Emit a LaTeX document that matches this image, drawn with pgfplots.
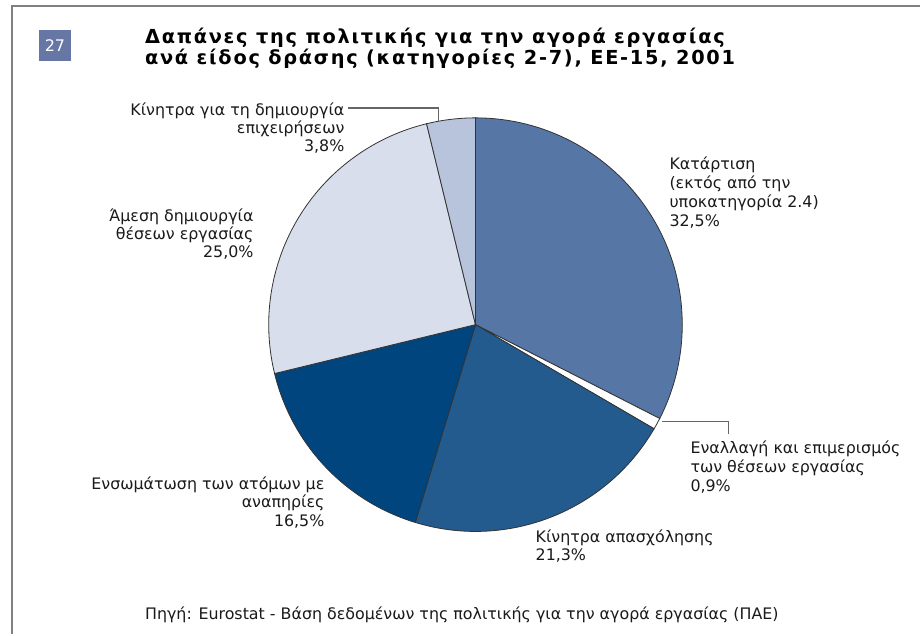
\documentclass[border=0pt]{standalone}
\usepackage{fontspec}
\setmainfont{DejaVu Sans}
\usepackage{pgfplots}
\usepackage{pgfplotstable}
\pgfplotsset{compat=1.18}

\definecolor{cA}{HTML}{5677A6}
\definecolor{cC}{HTML}{235B8E}
\definecolor{cD}{HTML}{00457E}
\definecolor{cE}{HTML}{D8DEEC}
\definecolor{cF}{HTML}{B8C3DC}
\definecolor{boxblue}{HTML}{6676A5}
\definecolor{txt}{HTML}{1A1A1A}

% shares in percent, clockwise from 12 o'clock
\pgfplotstableread[col sep=comma]{
share,colour
32.5,cA
0.9,white
21.3,cC
16.5,cD
25.0,cE
3.8,cF
}\piedata

\tikzset{
  slice/.style={draw=black!80, line width=0.6pt},
  lbl/.style={inner sep=0pt, text=txt, font=\fontsize{11.9}{14}\selectfont},
  lead/.style={draw=black!60, line width=1pt},
  ttl/.style={anchor=base west, inner sep=0pt, text=black,
    font=\fontsize{14.5}{16}\selectfont\bfseries\addfontfeatures{LetterSpace=9}},
}

\begin{document}
\begin{tikzpicture}
% build the slices from the table
\pgfplotstablegetrowsof{\piedata}
\pgfmathtruncatemacro\lastrow{\pgfplotsretval-1}
\gdef\pieslices{}
\gdef\cum{0}
\foreach \i in {0,...,\lastrow} {
  \pgfplotstablegetelem{\i}{share}\of\piedata \let\v\pgfplotsretval
  \pgfplotstablegetelem{\i}{colour}\of\piedata \let\c\pgfplotsretval
  \pgfmathsetmacro\a{90-3.6*\cum}
  \pgfmathsetmacro\b{90-3.6*(\cum+\v)}
  \xdef\pieslices{\unexpanded\expandafter{\pieslices}%
    \noexpand\filldraw[slice,fill=\c] (axis cs:476,310) -- ++(\a:155.25pt)
    arc[start angle=\a,end angle=\b,radius=155.25pt] -- cycle;}
  \pgfmathsetmacro\newcum{\cum+\v}
  \xdef\cum{\newcum}
}
\begin{axis}[
  scale only axis, width=690.75pt, height=476.25pt,
  xmin=0, xmax=921, ymin=0, ymax=635,
  hide axis, clip=false,
]
  \path (axis cs:0,0) rectangle (axis cs:921,635);
  % frame
  \draw[draw=black!50, line width=1.5pt] (axis cs:12,0) -- (axis cs:12,629) -- (axis cs:921,629);
  % number box
  \fill[boxblue] (axis cs:39,574) rectangle (axis cs:71,605);
  \node[text=white, font=\fontsize{12}{14}\selectfont] at (axis cs:55,589.5) {27};
  % title
  \node[ttl] at (axis cs:145,591) {Δαπάνες της πολιτικής για την αγορά εργασίας};
  \node[ttl] at (axis cs:145,570) {ανά είδος δράσης (κατηγορίες 2-7), ΕΕ-15, 2001};

  \pieslices

  % leader lines
  \draw[lead] (axis cs:348,527) -- (axis cs:439,527) -- (axis cs:439,513);
  \draw[lead] (axis cs:663,213) -- (axis cs:729,213) -- (axis cs:729,201);

  % labels
  \node[lbl, anchor=base west] at (axis cs:670,465) {Κατάρτιση};
  \node[lbl, anchor=base west] at (axis cs:670,446) {(εκτός από την};
  \node[lbl, anchor=base west] at (axis cs:670,427) {υποκατηγορία 2.4)};
  \node[lbl, anchor=base west] at (axis cs:670,408) {32,5\%};

  \node[lbl, anchor=base west] at (axis cs:691,181) {Εναλλαγή και επιμερισμός};
  \node[lbl, anchor=base west] at (axis cs:691,162) {των θέσεων εργασίας};
  \node[lbl, anchor=base west] at (axis cs:691,143) {0,9\%};

  \node[lbl, anchor=base west] at (axis cs:536,92) {Κίνητρα απασχόλησης};
  \node[lbl, anchor=base west] at (axis cs:536,74) {21,3\%};

  \node[lbl, anchor=base east] at (axis cs:325,145) {Ενσωμάτωση των ατόμων με};
  \node[lbl, anchor=base east] at (axis cs:325,127) {αναπηρίες};
  \node[lbl, anchor=base east] at (axis cs:325,108) {16,5\%};

  \node[lbl, anchor=base east] at (axis cs:254,413) {Άμεση δημιουργία};
  \node[lbl, anchor=base east] at (axis cs:254,395) {θέσεων εργασίας};
  \node[lbl, anchor=base east] at (axis cs:254,377) {25,0\%};

  \node[lbl, anchor=base east] at (axis cs:345,519) {Κίνητρα για τη δημιουργία};
  \node[lbl, anchor=base east] at (axis cs:345,501) {επιχειρήσεων};
  \node[lbl, anchor=base east] at (axis cs:345,483) {3,8\%};

  % source
  \node[lbl, anchor=base west] at (axis cs:145,15)
    {Πηγή: Eurostat - Βάση δεδομένων της πολιτικής για την αγορά εργασίας (ΠΑΕ)};
\end{axis}
\end{tikzpicture}
\end{document}
